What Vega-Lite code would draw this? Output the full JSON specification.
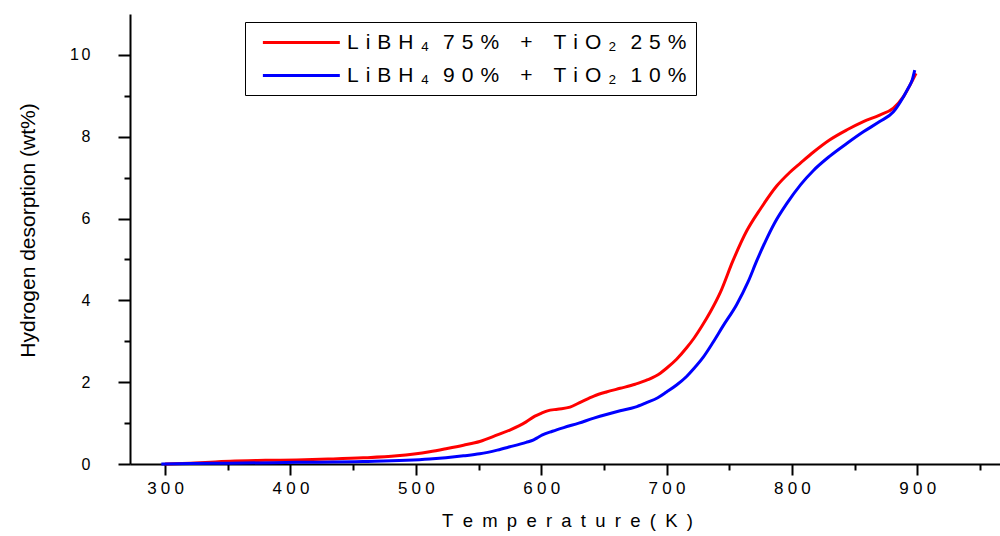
{
  "$schema": "https://vega.github.io/schema/vega-lite/v6.json",
  "width": 870,
  "height": 450,
  "autosize": {"type": "none"},
  "padding": {"left": 130, "top": 14, "right": 0, "bottom": 72},
  "background": "white",
  "config": {
    "view": {"stroke": null},
    "font": "Liberation Sans",
    "axis": {"grid": false, "domainColor": "black", "domainWidth": 2, "tickColor": "black", "tickWidth": 2, "labelColor": "black", "titleColor": "black", "labelFont": "Liberation Sans", "titleFont": "Liberation Sans", "titleFontWeight": "normal"}
  },
  "data": {"values": [
    {"s": "75", "T": 300, "v": 0},
    {"s": "75", "T": 320, "v": 0.02},
    {"s": "75", "T": 340, "v": 0.05},
    {"s": "75", "T": 352, "v": 0.07},
    {"s": "75", "T": 380, "v": 0.09},
    {"s": "75", "T": 405, "v": 0.1},
    {"s": "75", "T": 430, "v": 0.12},
    {"s": "75", "T": 458, "v": 0.15},
    {"s": "75", "T": 485, "v": 0.2},
    {"s": "75", "T": 511, "v": 0.3},
    {"s": "75", "T": 525, "v": 0.38},
    {"s": "75", "T": 538, "v": 0.46},
    {"s": "75", "T": 551, "v": 0.55},
    {"s": "75", "T": 565, "v": 0.71},
    {"s": "75", "T": 575, "v": 0.83},
    {"s": "75", "T": 588, "v": 1.03},
    {"s": "75", "T": 595, "v": 1.17},
    {"s": "75", "T": 600, "v": 1.24},
    {"s": "75", "T": 605, "v": 1.3},
    {"s": "75", "T": 613, "v": 1.34},
    {"s": "75", "T": 623, "v": 1.39},
    {"s": "75", "T": 632, "v": 1.52},
    {"s": "75", "T": 642, "v": 1.66},
    {"s": "75", "T": 652, "v": 1.76},
    {"s": "75", "T": 663, "v": 1.85},
    {"s": "75", "T": 675, "v": 1.95},
    {"s": "75", "T": 685, "v": 2.06},
    {"s": "75", "T": 695, "v": 2.22},
    {"s": "75", "T": 700, "v": 2.34},
    {"s": "75", "T": 708, "v": 2.56},
    {"s": "75", "T": 716, "v": 2.84},
    {"s": "75", "T": 722, "v": 3.08},
    {"s": "75", "T": 728, "v": 3.36},
    {"s": "75", "T": 735, "v": 3.72},
    {"s": "75", "T": 743, "v": 4.2},
    {"s": "75", "T": 753, "v": 4.97},
    {"s": "75", "T": 764, "v": 5.7},
    {"s": "75", "T": 775, "v": 6.24},
    {"s": "75", "T": 788, "v": 6.8},
    {"s": "75", "T": 798, "v": 7.12},
    {"s": "75", "T": 807, "v": 7.36},
    {"s": "75", "T": 817, "v": 7.62},
    {"s": "75", "T": 830, "v": 7.92},
    {"s": "75", "T": 844, "v": 8.17},
    {"s": "75", "T": 857, "v": 8.37},
    {"s": "75", "T": 870, "v": 8.53},
    {"s": "75", "T": 881, "v": 8.7},
    {"s": "75", "T": 889, "v": 8.98},
    {"s": "75", "T": 895, "v": 9.31},
    {"s": "75", "T": 899, "v": 9.55},
    {"s": "90", "T": 297, "v": 0},
    {"s": "90", "T": 320, "v": 0.01},
    {"s": "90", "T": 352, "v": 0.02},
    {"s": "90", "T": 405, "v": 0.04},
    {"s": "90", "T": 458, "v": 0.06},
    {"s": "90", "T": 511, "v": 0.12},
    {"s": "90", "T": 538, "v": 0.2},
    {"s": "90", "T": 551, "v": 0.25},
    {"s": "90", "T": 565, "v": 0.34},
    {"s": "90", "T": 575, "v": 0.42},
    {"s": "90", "T": 588, "v": 0.53},
    {"s": "90", "T": 594, "v": 0.59},
    {"s": "90", "T": 598, "v": 0.66},
    {"s": "90", "T": 601, "v": 0.71},
    {"s": "90", "T": 609, "v": 0.8},
    {"s": "90", "T": 618, "v": 0.89},
    {"s": "90", "T": 630, "v": 1.0},
    {"s": "90", "T": 642, "v": 1.12},
    {"s": "90", "T": 652, "v": 1.21},
    {"s": "90", "T": 663, "v": 1.3},
    {"s": "90", "T": 675, "v": 1.39},
    {"s": "90", "T": 684, "v": 1.5},
    {"s": "90", "T": 693, "v": 1.62},
    {"s": "90", "T": 700, "v": 1.76},
    {"s": "90", "T": 708, "v": 1.93},
    {"s": "90", "T": 716, "v": 2.14},
    {"s": "90", "T": 722, "v": 2.34},
    {"s": "90", "T": 729, "v": 2.6},
    {"s": "90", "T": 737, "v": 2.97},
    {"s": "90", "T": 745, "v": 3.37},
    {"s": "90", "T": 756, "v": 3.9},
    {"s": "90", "T": 765, "v": 4.45},
    {"s": "90", "T": 772, "v": 4.97},
    {"s": "90", "T": 779, "v": 5.45},
    {"s": "90", "T": 786, "v": 5.88},
    {"s": "90", "T": 796, "v": 6.37},
    {"s": "90", "T": 807, "v": 6.83},
    {"s": "90", "T": 817, "v": 7.17},
    {"s": "90", "T": 830, "v": 7.52},
    {"s": "90", "T": 844, "v": 7.84},
    {"s": "90", "T": 857, "v": 8.12},
    {"s": "90", "T": 870, "v": 8.37},
    {"s": "90", "T": 881, "v": 8.61},
    {"s": "90", "T": 889, "v": 8.98},
    {"s": "90", "T": 893, "v": 9.2},
    {"s": "90", "T": 896, "v": 9.39},
    {"s": "90", "T": 898, "v": 9.63}
  ]},
  "layer": [
    {
      "mark": {"type": "line", "strokeWidth": 3, "interpolate": "monotone"},
      "encoding": {
        "x": {"field": "T", "type": "quantitative", "scale": {"domain": [272, 966], "nice": false, "zero": false},
          "axis": {"orient": "bottom", "values": [300, 400, 500, 600, 700, 800, 900], "tickSize": 11, "labelFontSize": 17, "labelPadding": 5, "labelExpr": "join(split(datum.label, ''), '\u2005')",
            "title": "T\u2002e\u2002m\u2002p\u2002e\u2002r\u2002a\u2002t\u2002u\u2002r\u2002e\u2002(\u2002K\u2002)", "titleFontSize": 18.5, "titleX": 437, "titleY": 56, "titleBaseline": "middle", "titleAnchor": null}},
        "y": {"field": "v", "type": "quantitative", "scale": {"domain": [0, 11], "nice": false},
          "axis": {"orient": "left", "values": [0, 2, 4, 6, 8, 10], "tickSize": 12, "labelFontSize": 16, "labelPadding": 28, "labelExpr": "join(split(datum.label, ''), '\u2006')",
            "title": "Hydrogen desorption (wt%)", "titleFontSize": 21, "titleAngle": -90, "titleX": -102, "titleY": 216, "titleAlign": "center", "titleBaseline": "middle"}},
        "color": {"field": "s", "type": "nominal", "scale": {"domain": ["75", "90"], "range": ["#ff0000", "#0000ff"]},
          "legend": {"orient": "none", "legendX": 115, "legendY": 8, "title": null, "symbolType": "M-1,0H7", "symbolSize": 370, "symbolStrokeWidth": 3, "symbolOffset": 7, "labelOffset": 63,
            "labelFontSize": 21, "labelFont": "Liberation Sans", "labelColor": "black", "labelLimit": 700, "rowPadding": 11, "padding": 9,
            "strokeColor": "black", "fillColor": "white",
            "labelExpr": "datum.label == '75' ? 'L\u2004i\u2004B\u2004H\u2004₄\u2004\u20047\u20045\u2004%\u2003+\u2003T\u2004i\u2004O\u2004₂\u2004\u20042\u20045\u2004%\u2002' : 'L\u2004i\u2004B\u2004H\u2004₄\u2004\u20049\u20040\u2004%\u2003+\u2003T\u2004i\u2004O\u2004₂\u2004\u20041\u20040\u2004%\u2002'"}}
      }
    },
    {
      "mark": {"type": "line", "opacity": 0},
      "encoding": {
        "x": {"field": "T", "type": "quantitative", "axis": {"orient": "bottom", "values": [350, 450, 550, 650, 750, 850, 950], "tickSize": 6, "labels": false, "domain": false, "title": null}},
        "y": {"field": "v", "type": "quantitative", "axis": {"orient": "left", "values": [1, 3, 5, 7, 9], "tickSize": 6, "labels": false, "domain": false, "title": null}},
        "detail": {"field": "s"}
      }
    }
  ],
  "resolve": {"axis": {"x": "independent", "y": "independent"}}
}
